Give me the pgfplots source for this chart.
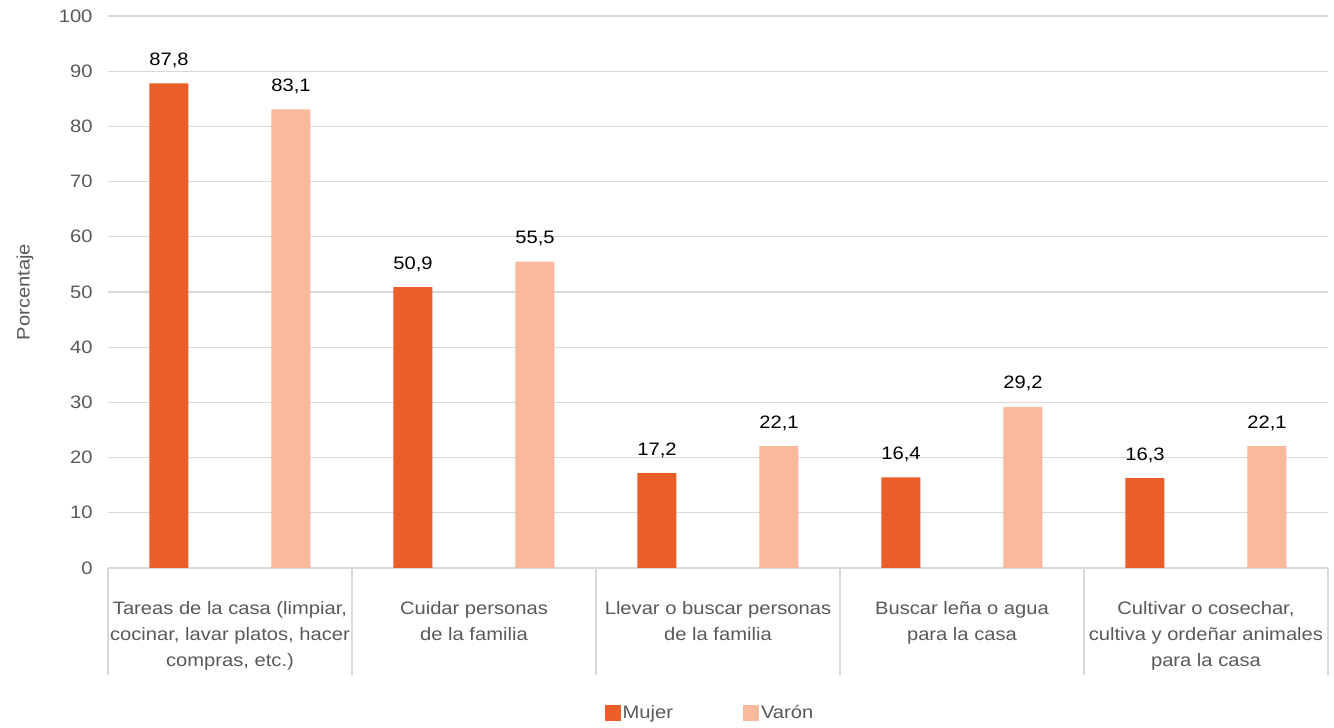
\documentclass[border=0pt]{standalone}
\usepackage{fontspec}
\setmainfont[FakeStretch=1.12]{Liberation Sans}
\usepackage{pgfplots}
\pgfplotsset{compat=1.18}
\definecolor{mujer}{RGB}{235,94,40}
\definecolor{varon}{RGB}{248,185,156}
\definecolor{txtgray}{RGB}{89,89,89}
\definecolor{gridgray}{RGB}{217,217,217}
\begin{document}
\begin{tikzpicture}
\useasboundingbox (0,0) rectangle (1334pt,728pt);
\begin{axis}[
  at={(108pt,160pt)}, anchor=south west,
  scale only axis, width=1220pt, height=552pt,
  xmin=-0.5, xmax=4.5, ymin=0, ymax=100,
  ybar, bar width=39pt,
  axis x line=bottom, axis y line=left,
  x axis line style={draw=gridgray, line width=1.2pt, -},
  y axis line style={draw=none},
  ymajorgrids, grid style={draw=gridgray, line width=1.2pt},
  ytick={0,10,...,100},
  ytick style={draw=none},
  xtick={0,1,2,3,4},
  xtick style={draw=gridgray, line width=1.2pt},
  major tick length=0pt,
  tick align=outside,
  xticklabels={{Tareas de la casa (limpiar,\\cocinar, lavar platos, hacer\\compras, etc.)},
    {Cuidar personas\\de la familia},
    {Llevar o buscar personas\\de la familia},
    {Buscar leña o agua\\para la casa},
    {Cultivar o cosechar,\\cultiva y ordeñar animales\\para la casa}},
  extra x ticks={-0.5,0.5,1.5,2.5,3.5,4.5},
  extra x tick labels={},
  extra x tick style={major tick length=107pt, tick align=outside},
  /pgf/number format/assume math mode=true,
  ticklabel style={font=\fontsize{18}{26}\selectfont, text=txtgray},
  xticklabel style={align=center, yshift=-30pt},
  yticklabel style={xshift=-12pt},
  ylabel={Porcentaje},
  every axis y label/.style={at={(axis description cs:-0.068,0.5)}, rotate=90, anchor=center,
    font=\fontsize{18}{22}\selectfont, text=txtgray},
  nodes near coords={\pgfmathprintnumber[use comma,fixed,fixed zerofill,precision=1,assume math mode=true]{\pgfplotspointmeta}},
  nodes near coords style={font=\fontsize{18}{22}\selectfont, text=black, yshift=12pt},
  legend style={at={(axis description cs:0.5,-0.2627)}, anchor=center, draw=none,
    xshift=-8pt,
    font=\fontsize{18}{22}\selectfont, text=txtgray,
    nodes={inner sep=2pt},
    /tikz/every even column/.append style={column sep=68pt}},
  legend columns=2,
  legend image code/.code={\fill[#1] (0pt,-8pt) rectangle (16pt,8pt);},
]
\addplot[fill=mujer, draw=none, bar shift=-61pt] coordinates {(0,87.8) (1,50.9) (2,17.2) (3,16.4) (4,16.3)};
\addplot[fill=varon, draw=none, bar shift=61pt] coordinates {(0,83.1) (1,55.5) (2,22.1) (3,29.2) (4,22.1)};
\legend{Mujer, Varón}
\end{axis}
\end{tikzpicture}
\end{document}
